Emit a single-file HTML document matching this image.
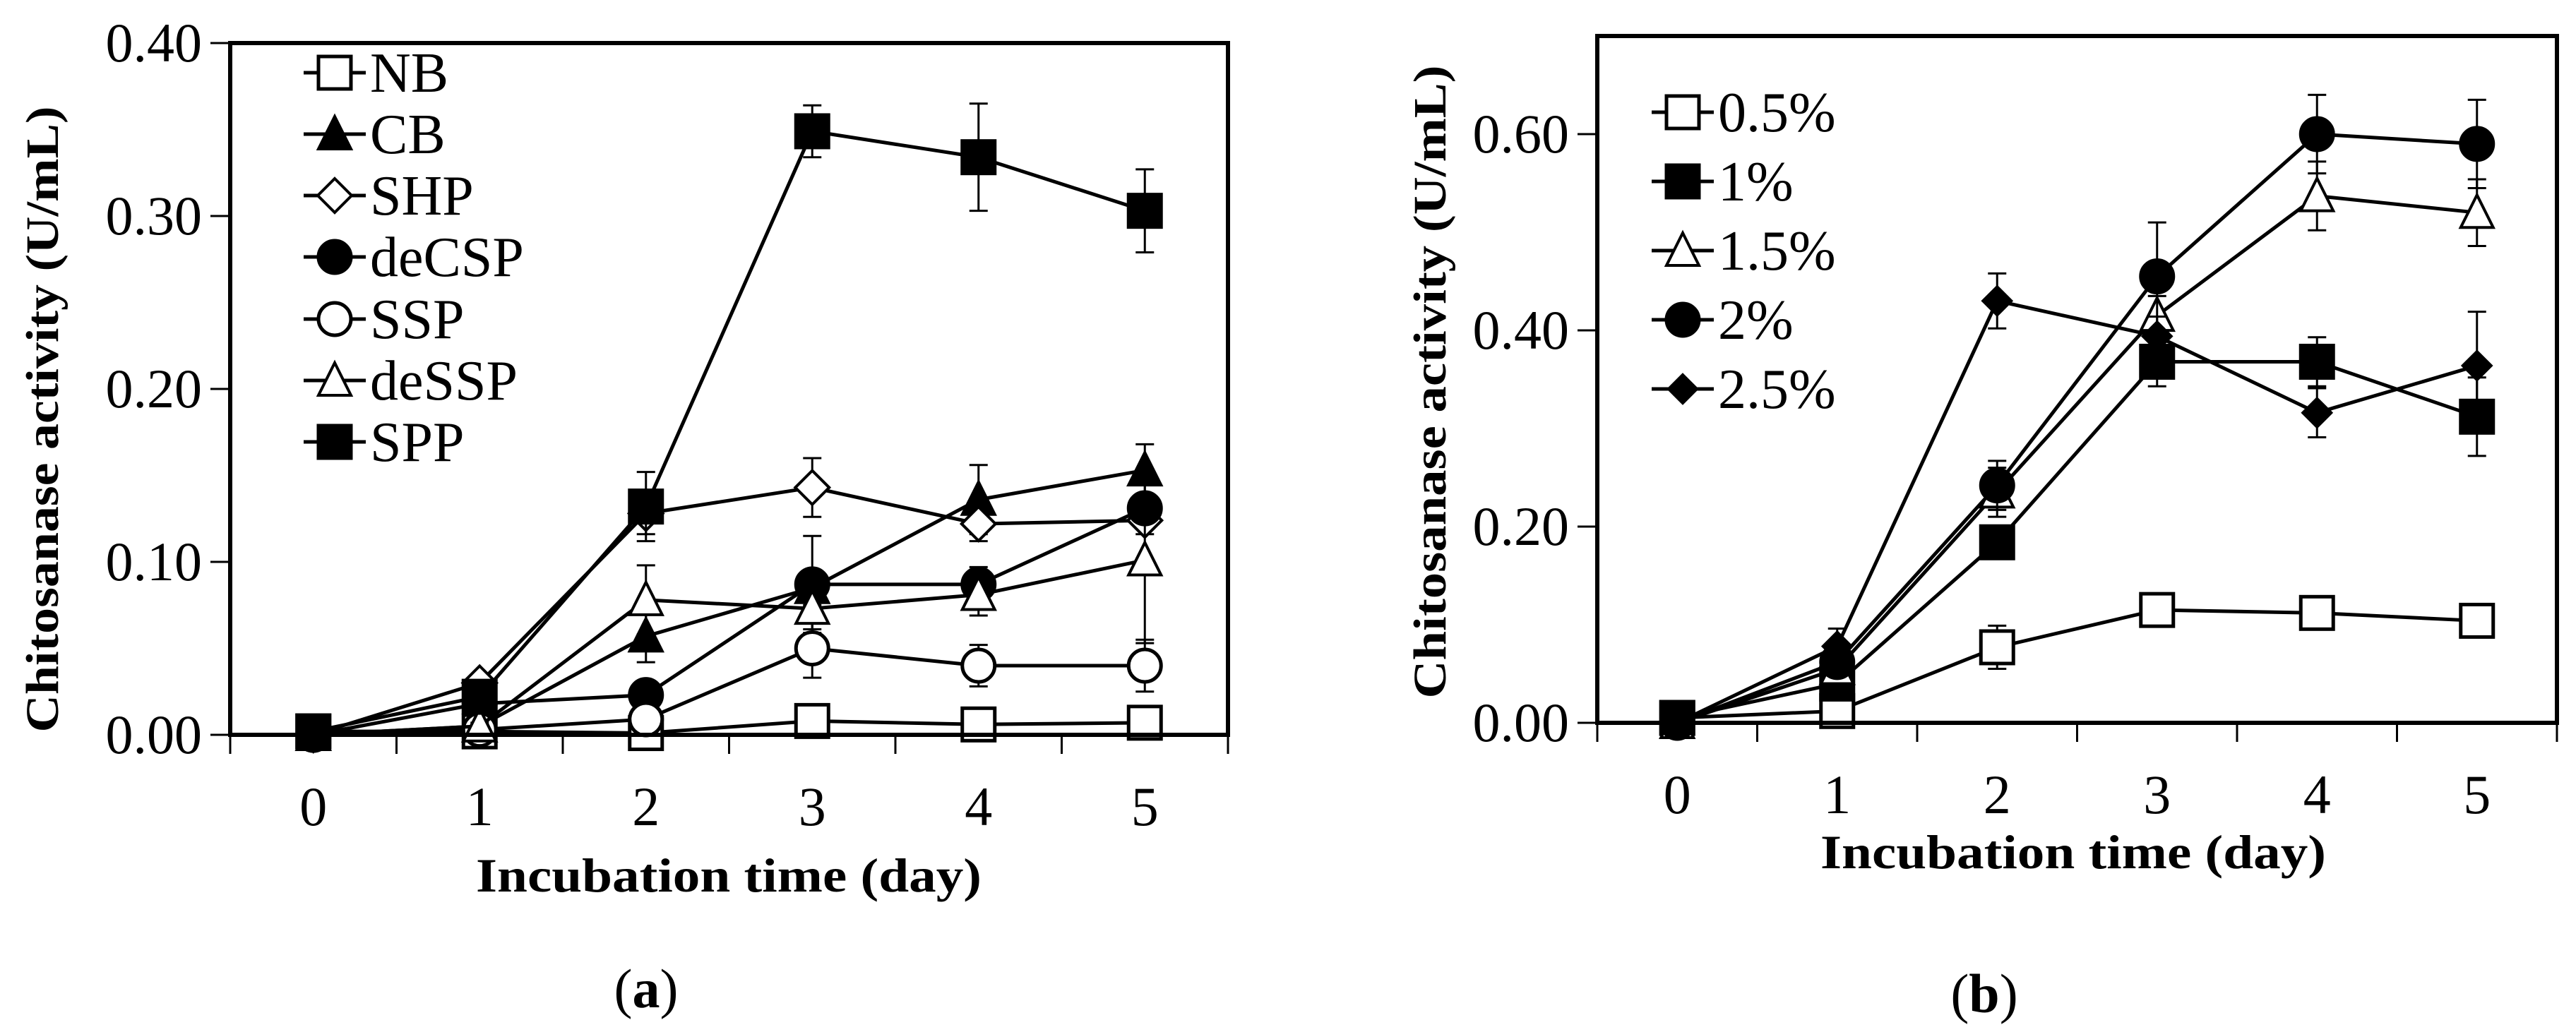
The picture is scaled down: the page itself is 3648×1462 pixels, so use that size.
<!DOCTYPE html>
<html><head><meta charset="utf-8"><style>
html,body{margin:0;padding:0;background:#fff;}
svg{display:block;font-family:"Liberation Serif","DejaVu Serif",serif;}
svg text{font-family:"Liberation Serif","DejaVu Serif",serif;fill:#000;}
</style></head><body>
<svg id="fig" width="3648" height="1462" viewBox="0 0 3648 1462" xmlns="http://www.w3.org/2000/svg" font-family="Liberation Serif, DejaVu Serif, serif">
<g id="pa"></g>
<g id="pb"></g>
</svg>
<script>
// Panel (a) data
const daysA = [0,1,2,3,4,5];
const seriesNamesA = ["NB","CB","SHP","deCSP","SSP","deSSP","SPP"];
const nbVals = [0.002,0.002,0.001,0.008,0.006,0.007];
const nbErr  = [0.001,0.001,0.002,0.005,0.004,0.003];
const cbVals = [0.000,0.005,0.057,0.085,0.136,0.153];
const cbErr  = [0.001,0.002,0.015,0.010,0.020,0.015];
const shpVals = [0.000,0.030,0.128,0.143,0.122,0.124];
const shpErr  = [0.001,0.003,0.012,0.017,0.010,0.008];
const decspVals = [0.000,0.018,0.023,0.087,0.087,0.131];
const decspErr  = [0.001,0.002,0.004,0.028,0.010,0.008];
const sspVals = [0.000,0.003,0.009,0.050,0.040,0.040];
const sspErr  = [0.001,0.001,0.003,0.017,0.012,0.015];
const dessppVals = [0.000,0.005,0.078,0.073,0.081,0.101];
const dessppErr  = [0.001,0.002,0.020,0.012,0.012,0.048];
const sppVals = [0.002,0.022,0.132,0.349,0.334,0.303];
const sppErr  = [0.001,0.003,0.020,0.015,0.031,0.024];
const yTicksA = [0,0.1,0.2,0.3,0.4];
const yTickLabelsA = ["0.00","0.10","0.20","0.30","0.40"];

// Panel (b) data
const daysB = [0,1,2,3,4,5];
const seriesNamesB = ["0.5%","1%","1.5%","2%","2.5%"];
const c05Vals = [0.005,0.012,0.077,0.115,0.112,0.104];
const c05Err  = [0.002,0.004,0.022,0.010,0.006,0.006];
const c1Vals  = [0.005,0.040,0.184,0.368,0.368,0.312];
const c1Err   = [0.003,0.006,0.015,0.025,0.025,0.040];
const c15Vals = [0.000,0.055,0.235,0.415,0.537,0.520];
const c15Err  = [0.002,0.008,0.025,0.020,0.035,0.034];
const c2Vals  = [0.000,0.062,0.242,0.455,0.600,0.590];
const c2Err   = [0.002,0.008,0.025,0.055,0.040,0.045];
const c25Vals = [0.000,0.078,0.430,0.394,0.316,0.364];
const c25Err  = [0.002,0.018,0.028,0.020,0.025,0.055];
const yTicksB = [0,0.2,0.4,0.6];
const yTickLabelsB = ["0.00","0.20","0.40","0.60"];

const NS="http://www.w3.org/2000/svg";
const FF="Liberation Serif, DejaVu Serif, serif";
function mk(tag, attrs, parent){const e=document.createElementNS(NS,tag);for(const k in attrs)e.setAttribute(k,attrs[k]);if(tag==='text')e.setAttribute('font-family',FF);parent.appendChild(e);return e;}

function marker(g, type, cx, cy){
  const s=23; let e;
  const fill = (type.indexOf('filled')>=0)?'#000':'#fff';
  if(type.startsWith('square')) e=mk('rect',{x:cx-s,y:cy-s,width:2*s,height:2*s,fill:fill,stroke:'#000','stroke-width':5},g);
  else if(type.startsWith('circle')) e=mk('circle',{cx:cx,cy:cy,r:s,fill:fill,stroke:'#000','stroke-width':5},g);
  else if(type.startsWith('triangle')) e=mk('polygon',{points:`${cx},${cy-s-2} ${cx+s},${cy+s-2} ${cx-s},${cy+s-2}`,fill:fill,stroke:'#000','stroke-width':4},g);
  else if(type.startsWith('diamond')){const d=type.indexOf('filled')>=0?20:24;e=mk('polygon',{points:`${cx},${cy-d} ${cx+d},${cy} ${cx},${cy+d} ${cx-d},${cy}`,fill:fill,stroke:'#000','stroke-width':4},g);}
  
  
  return e;
}

function panel(gid, cfg){
  const g=document.getElementById(gid);
  const {L,R,T,B,ymax,days,series,yTicks,yTickLabels} = cfg;
  const n=days.length, w=(R-L)/n;
  const xs=d=>L+w*(d+0.5);
  const ys=v=>B-(v/ymax)*(B-T);
  series.forEach(s=>{
    const sg=mk('g',{},g);
    
    
    s.err.forEach((e,i)=>{
      const x=xs(days[i]);
      const eb=mk('path',{d:`M${x},${ys(s.vals[i]-e)}V${ys(s.vals[i]+e)}M${x-13},${ys(s.vals[i]+e)}H${x+13}M${x-13},${ys(s.vals[i]-e)}H${x+13}`,stroke:'#000','stroke-width':3,fill:'none'},sg);
      
      
    });
    const pl=mk('polyline',{points:s.vals.map((v,i)=>xs(days[i])+','+ys(v)).join(' '),fill:'none',stroke:'#000','stroke-width':5},sg);
    
    
    s.vals.forEach((v,i)=>marker(sg,s.m,xs(days[i]),ys(v)));
  });
  const fr=mk('rect',{x:L,y:T,width:R-L,height:B-T,fill:'none',stroke:'#000','stroke-width':6},g);
  
  
  yTicks.forEach((t,i)=>{
    const y=ys(t);
    mk('line',{x1:L-28,x2:L,y1:y,y2:y,stroke:'#000','stroke-width':3},g);
    const tx=mk('text',{x:L-40,y:y+26,'text-anchor':'end','font-size':78},g);
    tx.textContent=yTickLabels[i];
    
    
  });
  for(let i=0;i<=n;i++){const x=L+w*i;mk('line',{x1:x,x2:x,y1:B,y2:B+27,stroke:'#000','stroke-width':3},g);}
  days.forEach(d=>{
    const tx=mk('text',{x:xs(d),y:cfg.xLabY,'text-anchor':'middle','font-size':78},g);
    tx.textContent=String(d);
    
    
  });
  series.forEach((s,i)=>{
    const y=cfg.legY[i];
    const lg=mk('g',{},g);
    
    
    mk('line',{x1:cfg.legX-44,x2:cfg.legX+44,y1:y,y2:y,stroke:'#000','stroke-width':5},lg);
    marker(lg,s.m,cfg.legX,y);
    const tx=mk('text',{x:cfg.legX+50,y:y+27,'font-size':80},lg);
    tx.textContent=s.name;
  });
  const yt=mk('text',{x:0,y:0,transform:`translate(${cfg.yTitleX},${cfg.yTitleY}) rotate(-90)`,'text-anchor':'middle','font-size':66,'font-weight':'bold',textLength:cfg.yTitleLen,lengthAdjust:'spacingAndGlyphs'},g);
  yt.textContent='Chitosanase activity (U/mL)';
  
  
  const xt=mk('text',{x:cfg.xTitleX,y:cfg.xTitleY,'text-anchor':'middle','font-size':68,'font-weight':'bold',textLength:716,lengthAdjust:'spacingAndGlyphs'},g);
  xt.textContent='Incubation time (day)';
  
  
  const cap=mk('text',{x:cfg.capX,y:cfg.capY,'text-anchor':'middle','font-size':78},g);
  cap.innerHTML='(<tspan font-weight="bold">'+cfg.cap+'</tspan>)';
  
  
}

panel('pa',{L:326,R:1739,T:61,B:1041,ymax:0.4,days:daysA,yTicks:yTicksA,yTickLabels:yTickLabelsA,
  series:[
    {name:seriesNamesA[0],vals:nbVals,err:nbErr,m:'square-open'},
    {name:seriesNamesA[1],vals:cbVals,err:cbErr,m:'triangle-filled'},
    {name:seriesNamesA[2],vals:shpVals,err:shpErr,m:'diamond-open'},
    {name:seriesNamesA[3],vals:decspVals,err:decspErr,m:'circle-filled'},
    {name:seriesNamesA[4],vals:sspVals,err:sspErr,m:'circle-open'},
    {name:seriesNamesA[5],vals:dessppVals,err:dessppErr,m:'triangle-open'},
    {name:seriesNamesA[6],vals:sppVals,err:sppErr,m:'square-filled'}],
  legX:474,legY:[103,190,277,364,452,539,626],xLabY:1169,
  yTitleX:82,yTitleY:594,yTitleLen:887,xTitleX:1032,xTitleY:1263,capX:915,capY:1427,cap:'a'});

panel('pb',{L:2262,R:3621,T:51,B:1024,ymax:0.7,days:daysB,yTicks:yTicksB,yTickLabels:yTickLabelsB,
  series:[
    {name:seriesNamesB[0],vals:c05Vals,err:c05Err,m:'square-open'},
    {name:seriesNamesB[1],vals:c1Vals,err:c1Err,m:'square-filled'},
    {name:seriesNamesB[2],vals:c15Vals,err:c15Err,m:'triangle-open'},
    {name:seriesNamesB[3],vals:c2Vals,err:c2Err,m:'circle-filled'},
    {name:seriesNamesB[4],vals:c25Vals,err:c25Err,m:'diamond-filled'}],
  legX:2383,legY:[159,257,355,453,551],xLabY:1152,
  yTitleX:2047,yTitleY:541,yTitleLen:897,xTitleX:2936,xTitleY:1230,capX:2810,capY:1434,cap:'b'});
</script>
</body></html>
